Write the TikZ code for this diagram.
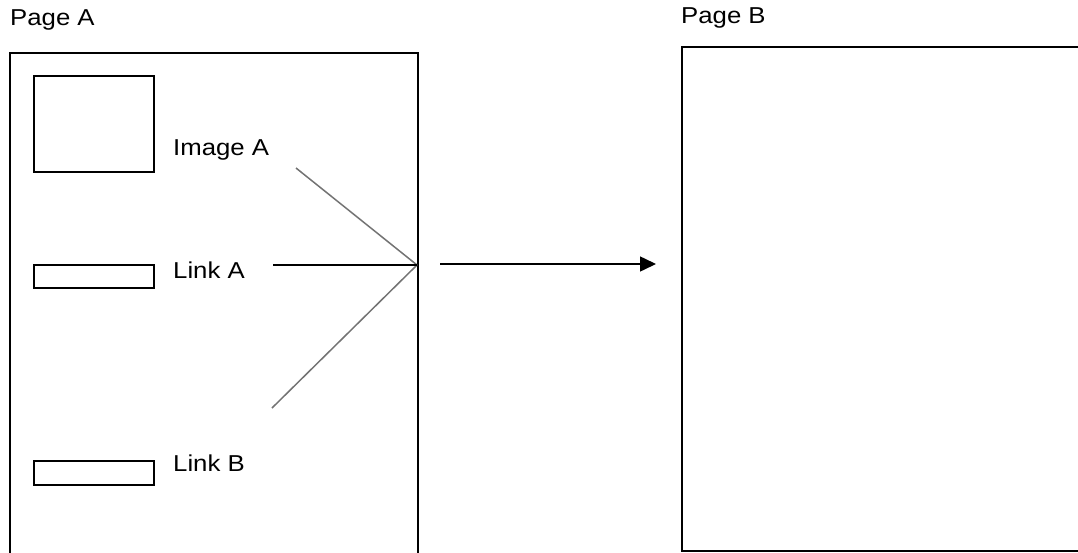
\documentclass[tikz,border=0pt]{standalone}
\usepackage{fontspec}
\setmainfont[FakeStretch=1.12]{Liberation Sans}
\usetikzlibrary{arrows.meta}
\begin{document}
\begin{tikzpicture}[x=1pt,y=-1pt,
  box/.style={draw=black,line width=1.6pt,inner sep=0pt,outer sep=0pt,anchor=north west},
  elem/.style={draw=black,line width=1.3pt,inner sep=0pt,outer sep=0pt,anchor=north west},
  lbl/.style={font=\fontsize{23}{27}\selectfont,inner sep=0pt,anchor=west},
  grayline/.style={draw=black!55,line width=1.5pt},
  blackline/.style={draw=black,line width=1.5pt}]
\useasboundingbox[fill=white] (0,0) rectangle (1078,552);
\node[box,minimum width=408pt,minimum height=520pt] (pageA) at (10,53) {};
\node[box,minimum width=420pt,minimum height=504pt] (pageB) at (682,47) {};
\node[lbl] (tA) at (10,20) {Page A};
\node[lbl] (tB) at (681,18) {Page B};
\node[elem,minimum width=120pt,minimum height=96pt] (img) at (34,76) {};
\node[elem,minimum width=120pt,minimum height=23pt] (linkA) at (34,265) {};
\node[elem,minimum width=120pt,minimum height=24pt] (linkB) at (34,461) {};
\node[lbl] (limg) at (173,150) {Image A};
\node[lbl] (llinkA) at (173,270) {Link A};
\node[lbl] (llinkB) at (173,463) {Link B};
\coordinate (hub) at (417,265);
\coordinate (e1) at (296,168);
\coordinate (e2) at (273,265);
\coordinate (e3) at (272,408);
\coordinate (as) at (440,264);
\coordinate (ae) at (656,264);
\draw[grayline] (e1) -- (hub);
\draw[grayline] (e3) -- (hub);
\draw[blackline] (e2) -- (hub);
\draw[blackline,-{Triangle[length=16pt,width=15pt]}] (as) -- (ae);
\end{tikzpicture}
\end{document}
